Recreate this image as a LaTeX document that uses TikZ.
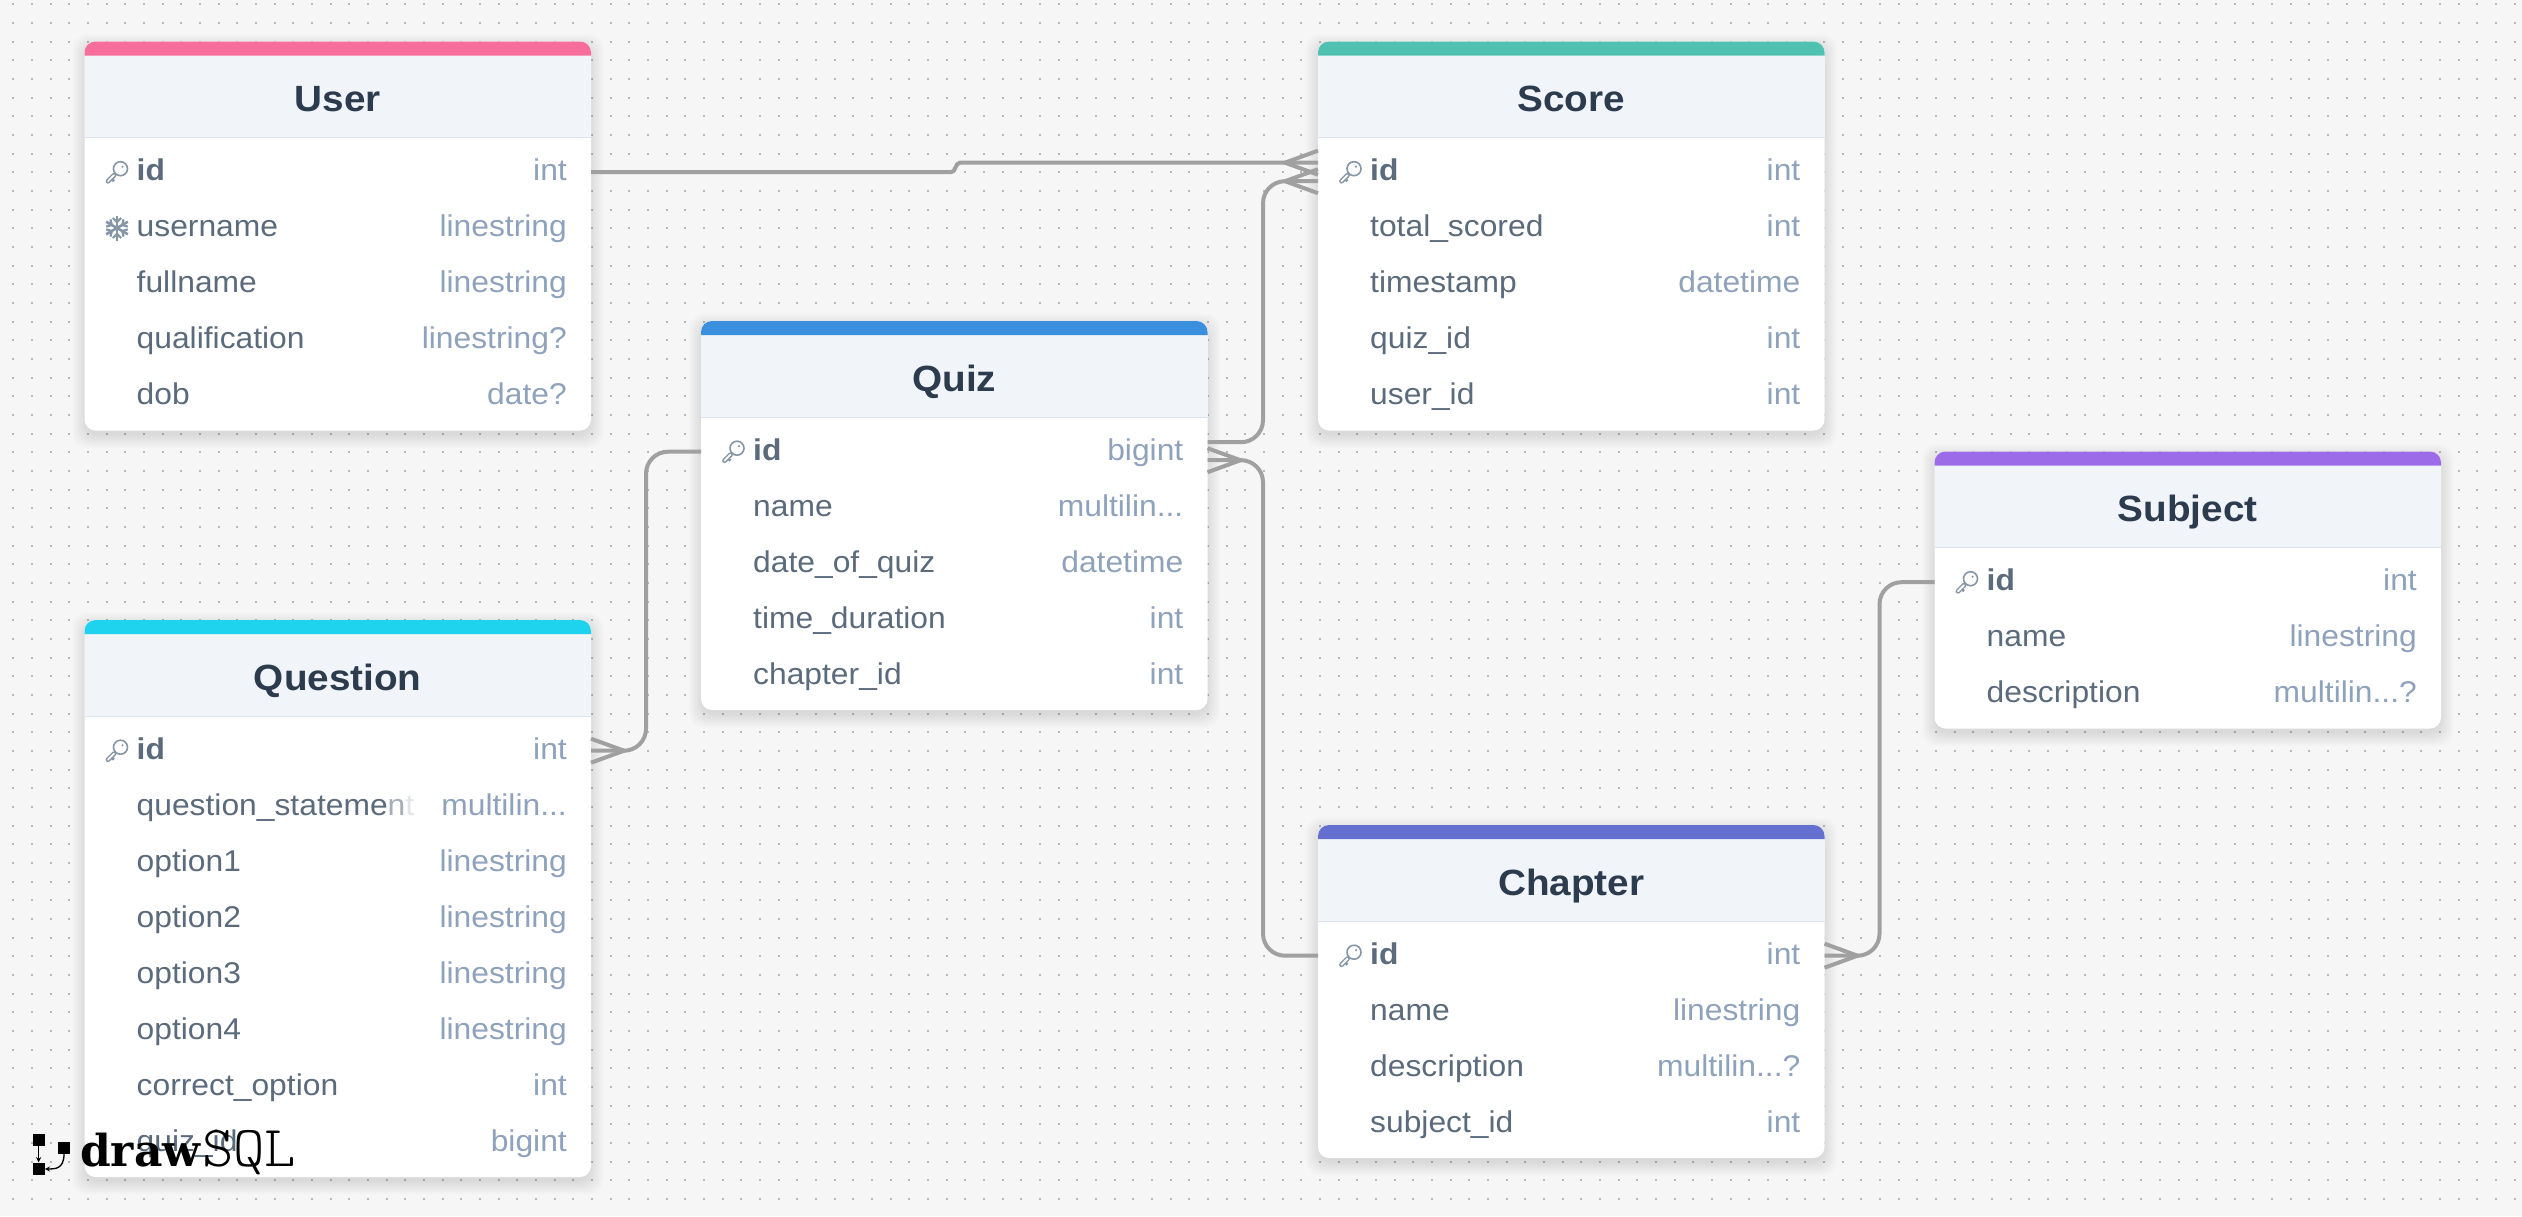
\documentclass[tikz,border=0pt]{standalone}
\usepackage{fontspec}
\setmainfont[FakeStretch=1.06]{Liberation Sans}
\newfontfamily\logofont{DejaVu Serif}
\newfontfamily\sqlfont[FakeStretch=1.03]{Latin Modern Mono Light}
\usetikzlibrary{calc}
\definecolor{bgc}{HTML}{F6F6F6}
\definecolor{dotc}{HTML}{B8B8B8}
\definecolor{headc}{HTML}{F1F4F9}
\definecolor{headline}{HTML}{DBE4EF}
\definecolor{titlec}{HTML}{2D3B4F}
\definecolor{rowc}{HTML}{5B6B7C}
\definecolor{typec}{HTML}{8FA2BC}
\definecolor{iconc}{HTML}{8596A6}
\definecolor{linkc}{HTML}{A0A0A0}
\definecolor{cUser}{HTML}{F76D9B}
\definecolor{cScore}{HTML}{4FC1B1}
\definecolor{cQuiz}{HTML}{3A8FDF}
\definecolor{cQuestion}{HTML}{1FD3EE}
\definecolor{cSubject}{HTML}{9B6BE8}
\definecolor{cChapter}{HTML}{6470D0}
\tikzset{
  cardbody/.style={anchor=north west,inner sep=0pt,outer sep=0pt,fill=white,rounded corners=11pt,minimum width=506.5pt},
  cardtitle/.style={anchor=base,inner sep=0pt,text=titlec,font=\fontsize{36.5}{40}\selectfont\bfseries},
  fieldname/.style={anchor=base west,inner sep=0pt,text=rowc,font=\fontsize{30}{34}\selectfont},
  fieldtype/.style={anchor=base east,inner sep=0pt,text=typec,font=\fontsize{30}{34}\selectfont},
  link/.style={draw=linkc,line width=4pt,rounded corners=22pt},
  crowlines/.style={draw=linkc,line width=4pt},
  keyicon/.pic={
    \draw[iconc,line width=4.8pt,line cap=round] (-3,3) -- (-9,9);
    \draw[iconc,line width=2.6pt] (-6,6) -- (-3,9);
    \draw[white,line width=1.8pt,line cap=round] (-3,3) -- (-9,9);
    \draw[iconc,line width=1.6pt,fill=white] (3.5,-3.5) circle (7pt);
    \fill[iconc] (5.5,-5.5) circle (1.2pt);
  },
  flakeicon/.pic={
    \foreach \a in {30,90,150,210,270,330}{
      \draw[iconc,line width=2.6pt,rotate=\a] (0,0) -- (12.5,0);
      \draw[iconc,line width=2.2pt,rotate=\a] (10,-4.2) -- (6,0) -- (10,4.2);
    }
  },
  logosq/.style={fill=black,inner sep=0pt,minimum width=12pt,minimum height=12pt,anchor=north west},
  logoarrow/.style={draw=black,line width=1.3pt,->,>=stealth}
}
\newcommand{\card}[6]{% id x y rows colour title
  \xdef\cid{#1}\xdef\cx{#2}\xdef\cy{#3}
  \pgfmathsetmacro\cardh{109+56*#4}
  \foreach \s in {12,10,8,6,4,2,0}{
    \fill[black,opacity=.016,rounded corners=14pt] ({#2-\s},{#3-\s+5}) rectangle ({#2+506.5+\s},{#3+\cardh+\s+5});
  }
  \node[cardbody,minimum height=\cardh pt] (#1) at (#2,#3) {};
  \fill[headc] (#2,#3+14) rectangle (#2+506.5,#3+96.3);
  \draw[headline,line width=1.2pt] (#2,#3+96.3) -- (#2+506.5,#3+96.3);
  \fill[#5] (#2,#3+14) {[rounded corners=11pt] -- (#2,#3) -- (#2+506.5,#3)} -- (#2+506.5,#3+14) -- cycle;
  \node[cardtitle] (#1-title) at (#2+253.25,#3+70) {#6};
}
\newcommand{\fieldrow}[3]{% k name type
  \pgfmathsetmacro\ry{\cy+130.7+56*(#1-1)}
  \coordinate (\cid-r#1) at (\cx,\ry);
  \node[fieldname] (\cid-n#1) at (\cx+52,\ry+8.5) {#2};
  \node[fieldtype] (\cid-t#1) at (\cx+482.5,\ry+8.5) {#3};
}
\newcommand{\keyrow}{\pic at (\cx+32.5,\cy+130.7) {keyicon};}
\begin{document}
\begin{tikzpicture}[x=1pt,y=-1pt]
\useasboundingbox (0,0) rectangle (2522,1216);
\fill[bgc] (0,0) rectangle (2522,1216);
\foreach \j in {0,...,64}{
  \draw[dotc,line width=2pt,dash pattern=on 2pt off 16.667pt] (12.3,{4.3+18.667*\j}) -- (2522,{4.3+18.667*\j});
}

\card{User}{84.5}{41.5}{5}{cUser}{User}
\keyrow
\fieldrow{1}{\bfseries id}{int}
\fieldrow{2}{username}{linestring}
\fieldrow{3}{fullname}{linestring}
\fieldrow{4}{qualification}{linestring?}
\fieldrow{5}{dob}{date?}
\pic at (117,228) {flakeicon};

\card{Score}{1318}{41.5}{5}{cScore}{Score}
\keyrow
\fieldrow{1}{\bfseries id}{int}
\fieldrow{2}{total\_scored}{int}
\fieldrow{3}{timestamp}{datetime}
\fieldrow{4}{quiz\_id}{int}
\fieldrow{5}{user\_id}{int}

\card{Quiz}{701}{321}{5}{cQuiz}{Quiz}
\keyrow
\fieldrow{1}{\bfseries id}{bigint}
\fieldrow{2}{name}{multilin...}
\fieldrow{3}{date\_of\_quiz}{datetime}
\fieldrow{4}{time\_duration}{int}
\fieldrow{5}{chapter\_id}{int}

\card{Question}{84.5}{620}{8}{cQuestion}{Question}
\keyrow
\fieldrow{1}{\bfseries id}{int}
\fieldrow{2}{question\_stateme{\color{rowc!55!white}n}{\color{rowc!18!white}t}}{multilin...}
\fieldrow{3}{option1}{linestring}
\fieldrow{4}{option2}{linestring}
\fieldrow{5}{option3}{linestring}
\fieldrow{6}{option4}{linestring}
\fieldrow{7}{correct\_option}{int}
\fieldrow{8}{quiz\_id}{bigint}

\card{Subject}{1934.5}{451.5}{3}{cSubject}{Subject}
\keyrow
\fieldrow{1}{\bfseries id}{int}
\fieldrow{2}{name}{linestring}
\fieldrow{3}{description}{multilin...?}

\card{Chapter}{1318}{825}{4}{cChapter}{Chapter}
\keyrow
\fieldrow{1}{\bfseries id}{int}
\fieldrow{2}{name}{linestring}
\fieldrow{3}{description}{multilin...?}
\fieldrow{4}{subject\_id}{int}

% connector ends
\coordinate (UserOut) at (User.east |- User-r1);
\coordinate (ScoreInA) at ($(Score-r1)+(0,-9.5)$);
\coordinate (ScoreInB) at ($(Score-r1)+(0,9)$);
\coordinate (QuizOut) at ($(Quiz.east |- Quiz-r1)+(0,-9.5)$);
\coordinate (QuizIn) at ($(Quiz.east |- Quiz-r1)+(0,8.5)$);
\coordinate (QuestionOut) at (Question.east |- Question-r1);
\coordinate (ChapterOut) at (Chapter.east |- Chapter-r1);
\coordinate (laneA) at ($(ScoreInB)+(-55,0)$);
\coordinate (laneB) at ($(Chapter-r1)+(-55,0)$);
\coordinate (laneC) at ($(Quiz-r1)+(-55,0)$);
\coordinate (laneD) at ($(Subject-r1)+(-55,0)$);

% User -> Score
\draw[crowlines] (UserOut) -- ++(360,0) .. controls +(5,0) and +(-5,0) .. ++(9,-9.5) -- (ScoreInA);
\draw[crowlines] ($(ScoreInA)+(0,-12)$) -- ($(ScoreInA)+(-33,0)$) -- ($(ScoreInA)+(0,12)$);
% Quiz -> Score
\draw[link] (QuizOut) -- (QuizOut -| laneA) -- (laneA) -- (ScoreInB);
\draw[crowlines] ($(ScoreInB)+(0,-12)$) -- ($(ScoreInB)+(-33,0)$) -- ($(ScoreInB)+(0,12)$);
% Chapter -> Quiz
\draw[link] (QuizIn) -- (QuizIn -| laneB) -- (laneB) -- (Chapter-r1);
\draw[crowlines] ($(QuizIn)+(0,-12)$) -- ($(QuizIn)+(33,0)$) -- ($(QuizIn)+(0,12)$);
% Question -> Quiz
\draw[link] (QuestionOut) -- (QuestionOut -| laneC) -- (laneC) -- (Quiz-r1);
\draw[crowlines] ($(QuestionOut)+(0,-12)$) -- ($(QuestionOut)+(33,0)$) -- ($(QuestionOut)+(0,12)$);
% Chapter -> Subject
\draw[link] (ChapterOut) -- (ChapterOut -| laneD) -- (laneD) -- (Subject-r1);
\draw[crowlines] ($(ChapterOut)+(0,-12)$) -- ($(ChapterOut)+(33,0)$) -- ($(ChapterOut)+(0,12)$);

% logo
\node[logosq] (logoA) at (32.4,1133.3) {};
\node[logosq] (logoB) at (57.8,1141.7) {};
\node[logosq] (logoC) at (32.4,1162.3) {};
\draw[logoarrow] (logoA.south) -- (logoC.north);
\draw[logoarrow] (logoB.south) .. controls +(0,15) and +(10,0) .. (logoC.east |- 0,1169);
\node[anchor=base west,inner sep=0pt,font=\logofont\bfseries\fontsize{44}{44}\selectfont] (logoDraw) at (80,1166) {draw};
\node[anchor=base west,inner sep=0pt,font=\sqlfont\fontsize{58}{58}\selectfont] (logoSQL) at (202,1166) {SQL};
\end{tikzpicture}
\end{document}
